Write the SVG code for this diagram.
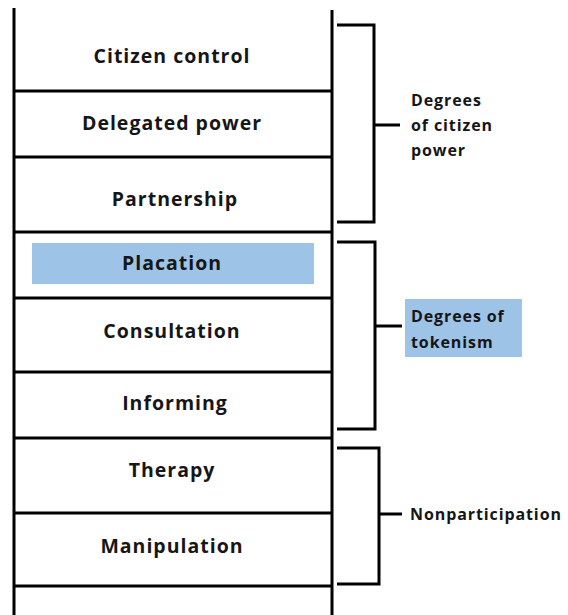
<svg xmlns="http://www.w3.org/2000/svg" width="568" height="615" viewBox="0 0 568 615">
<style>
.ln{stroke:#000;stroke-width:3;fill:none}
.br{stroke:#000;stroke-width:3;fill:none;stroke-linejoin:miter}
.lbl{font-family:"Open Sans","Liberation Sans",sans-serif;font-weight:700;font-size:19.5px;letter-spacing:1px;fill:#161616;text-anchor:middle}
.side{font-family:"Open Sans","Liberation Sans",sans-serif;font-weight:700;font-size:16px;letter-spacing:0.9px;fill:#161616}
.hl{fill:#9dc3e6}
</style>
<rect width="568" height="615" fill="#fff"/>
<g id="ladder">
<line class="ln" x1="14" y1="8" x2="14" y2="615"/>
<line class="ln" x1="332" y1="10" x2="332" y2="615"/>
</g>
<g id="rungs">
<line class="ln" x1="14" y1="91" x2="332" y2="91"/>
<line class="ln" x1="14" y1="157" x2="332" y2="157"/>
<line class="ln" x1="14" y1="232" x2="332" y2="232"/>
<line class="ln" x1="14" y1="298" x2="332" y2="298"/>
<line class="ln" x1="14" y1="372" x2="332" y2="372"/>
<line class="ln" x1="14" y1="438" x2="332" y2="438"/>
<line class="ln" x1="14" y1="513" x2="332" y2="513"/>
<line class="ln" x1="14" y1="586" x2="332" y2="586"/>
</g>
<g id="citizen-control"><text class="lbl" x="172" y="63">Citizen control</text></g>
<g id="delegated-power"><text class="lbl" x="172" y="130">Delegated power</text></g>
<g id="partnership"><text class="lbl" x="175" y="206">Partnership</text></g>
<g id="placation"><rect class="hl" x="32" y="243" width="282" height="41"/><text class="lbl" x="172" y="270">Placation</text></g>
<g id="consultation"><text class="lbl" x="172" y="338">Consultation</text></g>
<g id="informing"><text class="lbl" x="175" y="410">Informing</text></g>
<g id="therapy"><text class="lbl" x="172" y="477">Therapy</text></g>
<g id="manipulation"><text class="lbl" x="172" y="553">Manipulation</text></g>
<g id="connectors">
<polyline class="br" points="337,25 374,25 374,222 337,222"/>
<line class="br" x1="374" y1="125" x2="400" y2="125"/>
<polyline class="br" points="337,242 375,242 375,429 337,429"/>
<line class="br" x1="375" y1="326" x2="402" y2="326"/>
<polyline class="br" points="337,448 379,448 379,584 337,584"/>
<line class="br" x1="379" y1="514" x2="402" y2="514"/>
</g>
<g id="citizen-power"><text class="side" x="411" y="106">Degrees</text><text class="side" x="411" y="131">of citizen</text><text class="side" x="411" y="156">power</text></g>
<g id="tokenism"><rect class="hl" x="405" y="299" width="117" height="58"/><text class="side" x="411" y="322">Degrees of</text><text class="side" x="411" y="348">tokenism</text></g>
<g id="nonparticipation"><text class="side" x="410" y="520">Nonparticipation</text></g>
</svg>
